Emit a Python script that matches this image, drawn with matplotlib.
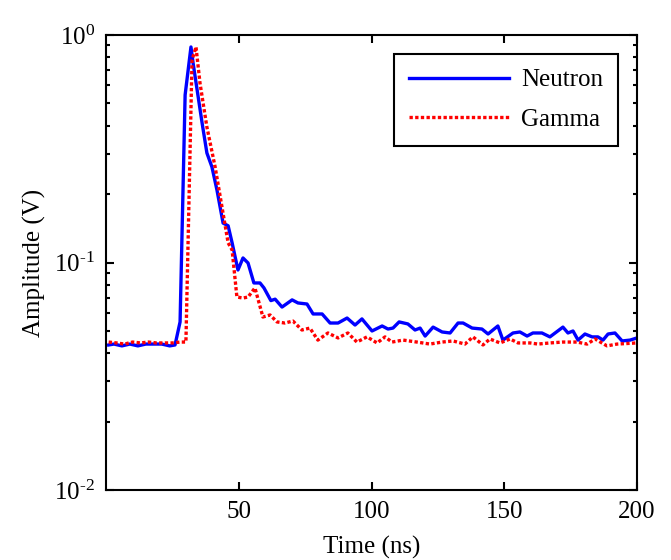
"""Neutron vs gamma pulse shapes on a log amplitude scale."""

import matplotlib

matplotlib.use("Agg")
import matplotlib.pyplot as plt
import numpy as np
from matplotlib.ticker import FixedLocator, FuncFormatter, LogLocator, NullFormatter

plt.rcParams["font.family"] = ["Liberation Serif", "DejaVu Serif"]
plt.rcParams["mathtext.fontset"] = "custom"
plt.rcParams["mathtext.rm"] = "Liberation Serif"
plt.rcParams["mathtext.default"] = "regular"
plt.rcParams["axes.unicode_minus"] = False

# neutron pulse (ns, V)
neutron_t = [1, 3, 6, 9, 12, 15, 18, 21, 24, 26.0, 27.9, 29.8, 32.0, 32.8, 36.2,
             38.0, 39.9, 41.8, 44.1, 46.0, 47.5, 49.7, 51.6, 53.5, 55.7, 58.0,
             59.5, 62.1, 63.7, 66.3, 70.1, 72.3, 75.7, 78.0, 81.4, 84.4, 87.4,
             90.8, 93.8, 96.4, 100.2, 104.0, 106.2, 108.1, 110.4, 113.7, 116.4,
             118.3, 120.2, 123.2, 126.6, 129.6, 132.6, 134.5, 137.9, 141.6,
             143.9, 147.6, 149.5, 153.3, 155.9, 158.6, 160.8, 164.2, 167.2,
             172.1, 174.0, 175.9, 177.8, 180.4, 183.1, 185.3, 187.2, 189.1,
             191.7, 194.4, 197.4, 200.0]
neutron_v = [0.0434, 0.0438, 0.0430, 0.0438, 0.0430, 0.0438, 0.0438, 0.0438,
             0.0430, 0.0434, 0.0548, 0.545, 0.886, 0.753, 0.410, 0.303, 0.263,
             0.208, 0.149, 0.145, 0.122, 0.0927, 0.1047, 0.0995, 0.0813,
             0.0813, 0.0773, 0.0680, 0.0690, 0.0637, 0.0685, 0.0664, 0.0657,
             0.0594, 0.0594, 0.0542, 0.0542, 0.0570, 0.0531, 0.0565, 0.0500,
             0.0526, 0.0510, 0.0515, 0.0548, 0.0537, 0.0505, 0.0515, 0.0475,
             0.0520, 0.0495, 0.0490, 0.0542, 0.0542, 0.0515, 0.0510, 0.0485,
             0.0526, 0.0456, 0.0490, 0.0495, 0.0475, 0.0490, 0.0490, 0.0471,
             0.0520, 0.0490, 0.0500, 0.0456, 0.0485, 0.0471, 0.0471, 0.0456,
             0.0485, 0.0490, 0.0452, 0.0456, 0.0466]

# gamma pulse (ns, V)
gamma_t = [1, 4, 7, 10, 13, 16, 19, 22, 25, 28, 30.1, 32.4, 33.9, 35.4, 38.0,
           41.1, 43.7, 46.0, 47.5, 49.3, 51.6, 53.5, 56.1, 59.1, 61.8, 64.4,
           67.4, 70.4, 73.8, 76.8, 79.8, 83.6, 87.4, 91.1, 94.5, 98.3, 102.1,
           105.1, 107.7, 111.9, 117.1, 122.0, 126.6, 130.7, 135.2, 138.2,
           142.0, 144.6, 148.4, 152.2, 155.2, 159.7, 162.7, 167.2, 172.1,
           177.4, 181.2, 184.2, 188.7, 192.5, 200.0]
gamma_v = [0.0447, 0.0443, 0.0438, 0.0447, 0.0443, 0.0447, 0.0443, 0.0443,
           0.0443, 0.0447, 0.0447, 0.776, 0.886, 0.615, 0.394, 0.263, 0.175,
           0.122, 0.1135, 0.0705, 0.0698, 0.0705, 0.0773, 0.0576, 0.0588,
           0.0548, 0.0542, 0.0553, 0.0505, 0.0515, 0.0456, 0.0490, 0.0466,
           0.0490, 0.0447, 0.0471, 0.0443, 0.0471, 0.0447, 0.0456, 0.0447,
           0.0438, 0.0447, 0.0452, 0.0438, 0.0471, 0.0434, 0.0461, 0.0443,
           0.0461, 0.0443, 0.0443, 0.0438, 0.0443, 0.0447, 0.0447, 0.0438,
           0.0461, 0.0430, 0.0438, 0.0443]

x_ticks = [50, 100, 150, 200]


def _decade_label(value, _pos):
    # MATLAB draws a short hyphen in the exponent, not a long minus
    exponent = int(round(np.log10(value)))
    sign = r"\text{-}" if exponent < 0 else ""
    return rf"$10^{{{sign}{abs(exponent)}}}$"


fig = plt.figure(figsize=(6.71, 5.6), dpi=100)
ax = fig.add_axes([106 / 671, 1 - 490 / 560, (637 - 106) / 671, (490 - 35) / 560])

ax.plot(neutron_t, neutron_v, color="#0000ff", lw=2.4, label="Neutron")
ax.plot(gamma_t, gamma_v, color="#ff0000", lw=2.4, ls=(0, (1.0, 0.7)),
        label="Gamma")

ax.set_yscale("log")
ax.set_xlim(0, 200)
ax.set_ylim(1e-2, 1e0)
ax.xaxis.set_major_locator(FixedLocator(x_ticks))
ax.yaxis.set_major_locator(LogLocator(base=10, numticks=10))
ax.yaxis.set_major_formatter(FuncFormatter(_decade_label))
ax.yaxis.set_minor_locator(LogLocator(base=10, subs=range(2, 10), numticks=20))
ax.yaxis.set_minor_formatter(NullFormatter())

ax.tick_params(which="both", direction="in", top=True, right=True,
               labelsize=18, width=1.5)
ax.tick_params(which="major", length=6, pad=8)
ax.tick_params(which="minor", length=3)
for spine in ax.spines.values():
    spine.set_linewidth(1.5)

ax.set_xlabel("Time (ns)", fontsize=18, labelpad=9)
ax.set_ylabel("Amplitude (V)", fontsize=18, labelpad=6)

leg = ax.legend(loc="upper right", bbox_to_anchor=(618 / 671, 1 - 54 / 560),
                bbox_transform=fig.transFigure, fontsize=18, handlelength=4,
                handletextpad=0.5, labelspacing=0.68, borderpad=0.6,
                borderaxespad=0, fancybox=False, framealpha=1)
leg.get_frame().set_edgecolor("black")
leg.get_frame().set_linewidth(1.5)

fig.savefig("out.png", dpi=100)
